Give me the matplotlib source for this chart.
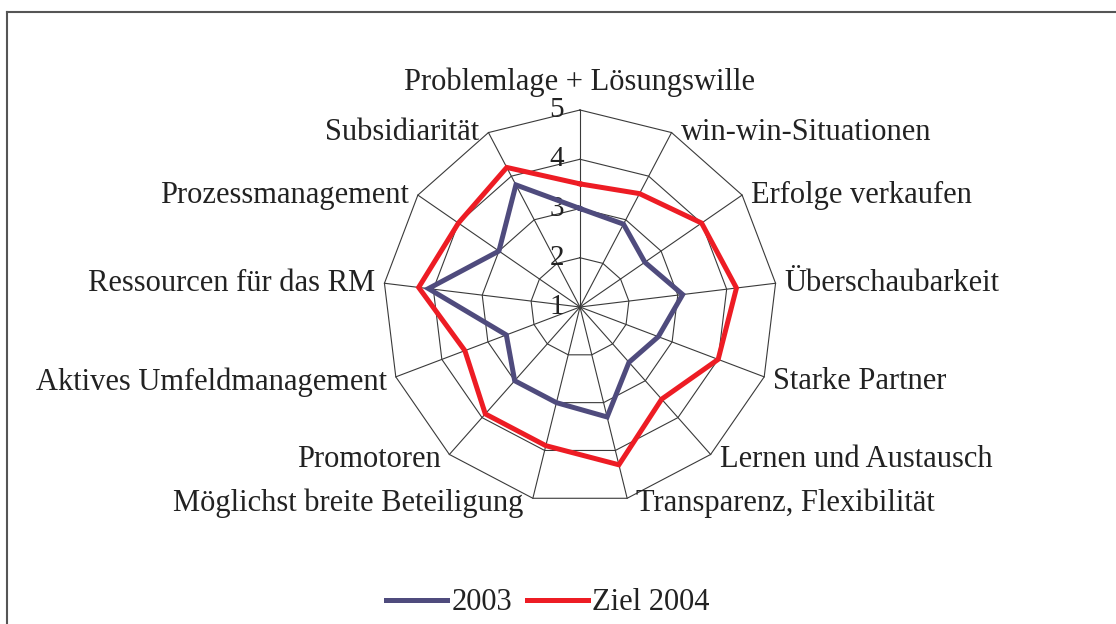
import numpy as np
import matplotlib.pyplot as plt
from matplotlib.lines import Line2D

plt.rcParams['font.family'] = ['Liberation Serif', 'DejaVu Serif']

categories = ["Problemlage + Lösungswille", "win-win-Situationen", "Erfolge verkaufen",
              "Überschaubarkeit", "Starke Partner", "Lernen und Austausch",
              "Transparenz, Flexibilität", "Möglichst breite Beteiligung", "Promotoren",
              "Aktives Umfeldmanagement", "Ressourcen für das RM", "Prozessmanagement",
              "Subsidiarität"]
values_2003 = [3.0, 2.9, 2.6, 3.1, 2.7, 2.5, 3.3, 3.0, 3.0, 2.6, 4.1, 3.0, 3.8]
values_2004 = [3.5, 3.6, 4.0, 4.2, 4.0, 3.5, 4.3, 3.9, 3.9, 3.5, 4.3, 4.0, 4.2]
r_ticks = [1, 2, 3, 4, 5]

blue = "#4f4b7d"
red = "#ed1c24"
grid_col = "#3a3a3a"
text_col = "#222222"

fig = plt.figure(figsize=(11.16, 6.24), dpi=100)

# center (580, 307) px, radius 197 px
cx, cy, rad = 580, 307, 197
W, H = 1116, 624
ax = fig.add_axes([(cx - rad) / W, 1 - (cy + rad) / H, 2 * rad / W, 2 * rad / H],
                  projection="polar")
ax.set_theta_offset(np.pi / 2)
ax.set_theta_direction(-1)
ax.set_ylim(1, 5)
ax.grid(False)
ax.spines["polar"].set_visible(False)
ax.set_xticks([])
ax.set_yticks([])
ax.patch.set_alpha(0)

n = len(categories)
angles = np.arange(n) * 2 * np.pi / n
ring_ang = np.append(angles, angles[0])

# polygon grid
for r in r_ticks[1:]:
    ax.plot(ring_ang, [r] * (n + 1), color=grid_col, lw=0.8, clip_on=False, zorder=1)
for a in angles:
    ax.plot([a, a], [1, 5], color=grid_col, lw=0.8, clip_on=False, zorder=1)

# data
ax.plot(ring_ang, values_2003 + values_2003[:1], color=blue, lw=3.6, zorder=3,
        clip_on=False, solid_joinstyle="miter")
ax.plot(ring_ang, values_2004 + values_2004[:1], color=red, lw=3.6, zorder=3,
        clip_on=False, solid_joinstyle="miter")

# radial tick labels
for r in r_ticks:
    ax.annotate(str(r), xy=(0, r), xytext=(-16, 0), textcoords="offset pixels",
                ha="right", va="center", fontsize=21, color=text_col, zorder=2)

# category labels
for a, lab in zip(angles, categories):
    s, c = np.sin(a), np.cos(a)
    yoff = -5 if c < 0 else 0
    if abs(s) < 1e-6:
        ax.annotate(lab, xy=(a, 5), xytext=(0, 20), textcoords="offset pixels",
                    ha="center", va="baseline", fontsize=22, color=text_col)
    elif s > 0:
        ax.annotate(lab, xy=(a, 5), xytext=(9, yoff), textcoords="offset pixels",
                    ha="left", va="center", fontsize=22, color=text_col)
    else:
        ax.annotate(lab, xy=(a, 5), xytext=(-9, yoff), textcoords="offset pixels",
                    ha="right", va="center", fontsize=22, color=text_col)

handles = [Line2D([], [], color=blue, lw=3.6), Line2D([], [], color=red, lw=3.6)]
fig.legend(handles, ["2003", "Ziel 2004"], loc="center", bbox_to_anchor=(548 / W, 1 - 603 / H),
           ncol=2, frameon=False, fontsize=22, handlelength=2.0, handletextpad=0.15,
           columnspacing=0.45, labelcolor=text_col)

# chart border (top and left)
fig.add_artist(Line2D([7 / W, 1], [1 - 12 / H, 1 - 12 / H], color="#555555", lw=1.5,
                      transform=fig.transFigure))
fig.add_artist(Line2D([7 / W, 7 / W], [0, 1 - 12 / H], color="#555555", lw=1.5,
                      transform=fig.transFigure))

fig.savefig("out.png", dpi=100)
